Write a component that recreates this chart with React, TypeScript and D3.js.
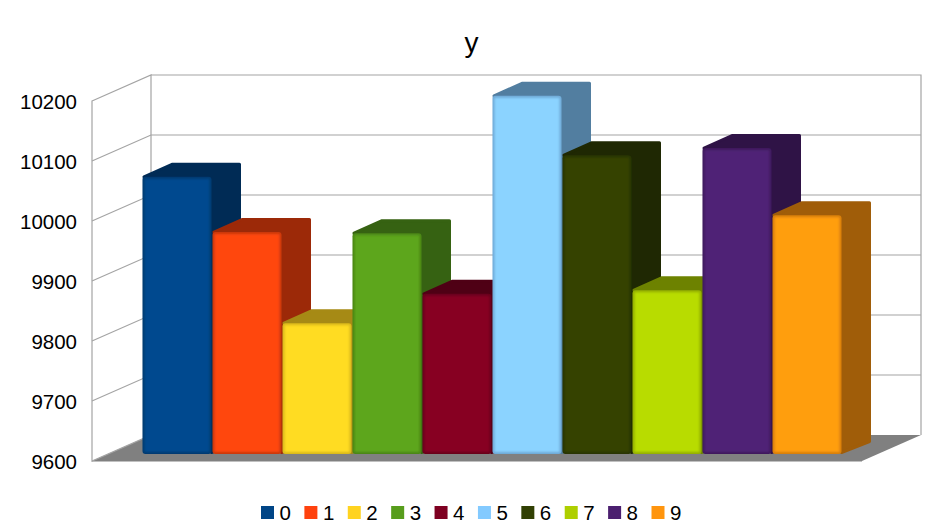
import React from "react";
import * as d3 from "d3";

const categories = ["0", "1", "2", "3", "4", "5", "6", "7", "8", "9"];
const values = [10062, 9970, 9818, 9968, 9867, 10197, 10098, 9873, 10110, 9998];
const yTicks = [9600, 9700, 9800, 9900, 10000, 10100, 10200];
const legendColors = ["#004586", "#ff420e", "#ffd320", "#579d1c", "#7e0021", "#83caff", "#314004", "#aecf00", "#4b1f6f", "#ff950e"];
const faceColors = ["#004a8f", "#ff470f", "#ffdc20", "#5da61d", "#870023", "#8bd3ff", "#344305", "#b8dc00", "#502176", "#ff9e0f"];
const edgeColors = ["#003a70", "#c8380c", "#d9b81c", "#4a8518", "#68001c", "#6fa9d6", "#283403", "#93ae00", "#3e1a5c", "#d67d0c"];
const sideColors = ["#002b55", "#9c2908", "#a68a15", "#366212", "#4f0015", "#527ea0", "#1f2803", "#6d8200", "#2f1346", "#a05d09"];
const title = "y";

const DX = 59, DY = -26;
const BX = 28, BY = -12.5;
const wallX0 = 92, wallX1 = 862, frontBottom = 461, frontTop = 101;
const gridColor = "#a4a4a4";

export default function App() {
  const y = d3.scaleLinear().domain([9600, 10200]).range([frontBottom, frontTop]);
  const barY = d3.scaleLinear().domain([9600, 10200]).range([454, 94]);
  const x = d3.scaleBand<string>().domain(categories).range([142, 842]).padding(0);
  const legendX = d3.scaleLinear().domain([0, 9]).range([261, 651.5]);
  const line = d3.line();
  const poly = (pts: [number, number][]) => line(pts) + "Z";

  return (
    <svg width={943} height={530} style={{ position: "fixed", left: 0, top: 0, fontFamily: "'Liberation Sans', sans-serif" }}>
      <defs>
        <filter id="soft" x="-10%" y="-10%" width="120%" height="120%">
          <feGaussianBlur stdDeviation="1" />
        </filter>
      </defs>
      <rect width={943} height={530} fill="#fff" />
      <text x={471.5} y={52} fontSize={28} textAnchor="middle" fill="#000">{title}</text>

      {/* walls */}
      <path d={poly([[wallX0 + DX, frontBottom + DY], [wallX1 + DX, frontBottom + DY], [wallX1, frontBottom], [wallX0, frontBottom]])} fill="#808080" />
      <path d={`M${wallX0},${frontBottom + 0.5}H${wallX1}`} stroke="#c0c0c0" strokeWidth={1} fill="none" />
      <path d={poly([[wallX0, frontTop], [wallX0 + DX, frontTop + DY], [wallX0 + DX, frontBottom + DY], [wallX0, frontBottom]])} fill="none" stroke={gridColor} strokeWidth={1.2} />
      <path d={`M${wallX0 + DX},${frontTop + DY}H${wallX1 + DX}V${frontBottom + DY}`} fill="none" stroke={gridColor} strokeWidth={1.2} />
      {yTicks.map((t) => (
        <g key={t}>
          {t !== 9600 && t !== 10200 && (
            <path d={`M${wallX0},${y(t)}L${wallX0 + DX},${y(t) + DY}H${wallX1 + DX}`} fill="none" stroke={gridColor} strokeWidth={1.2} />
          )}
          <text x={77} y={y(t) + 7.5} fontSize={20.5} textAnchor="end" fill="#000">{t}</text>
        </g>
      ))}

      {/* bars */}
      {categories.map((c, i) => {
        const x0 = x(c)! + 0.5;
        const w = x.bandwidth() - 1;
        const top = barY(values[i]);
        const bottom = barY(9600);
        const x1 = x0 + w;
        return (
          <g key={c}>
            <path
              d={poly([[x0 + 1.5, top], [x0 + 1.5 + BX, top + BY], [x1 + BX, top + BY], [x1 + BX, bottom + BY], [x1, bottom - 1.5]])}
              fill={sideColors[i]} stroke={sideColors[i]} strokeWidth={3} strokeLinejoin="round"
            />
            <rect x={x0} y={top} width={w} height={bottom - top} rx={3} fill={edgeColors[i]} />
            <rect x={x0 + 2} y={top + 2} width={w - 4} height={bottom - top - 4} fill={faceColors[i]} filter="url(#soft)" />
          </g>
        );
      })}

      {/* legend */}
      {categories.map((c, i) => (
        <g key={c}>
          <rect x={legendX(i)} y={506} width={13} height={13} fill={legendColors[i]} />
          <text x={legendX(i) + 18.5} y={519.5} fontSize={20.5} fill="#000">{c}</text>
        </g>
      ))}
    </svg>
  );
}
